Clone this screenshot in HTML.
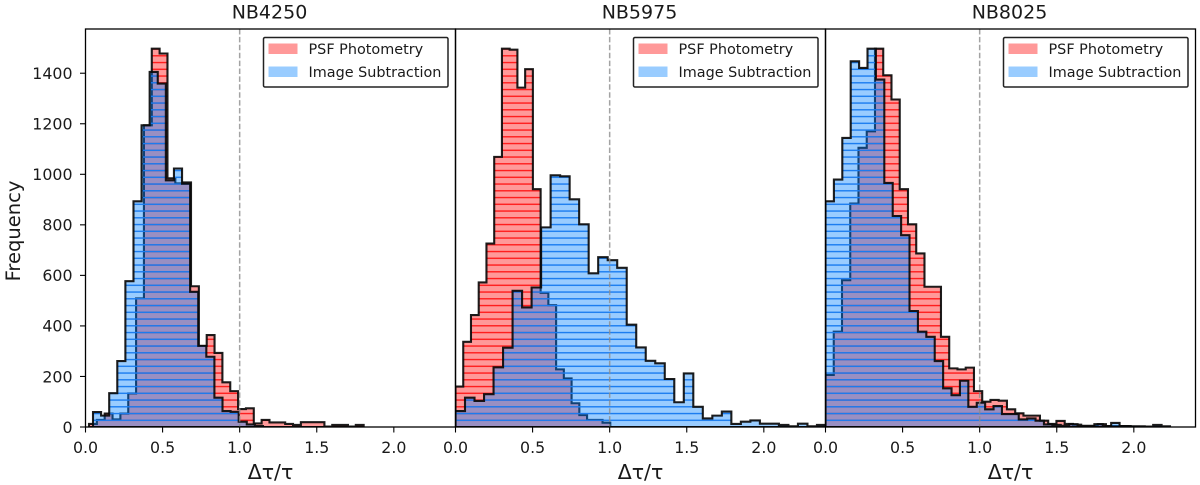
<!DOCTYPE html>
<html>
<head>
<meta charset="utf-8">
<title>Histograms</title>
<style>
html,body{margin:0;padding:0;background:#fff;width:1200px;height:485px;overflow:hidden}
svg{display:block;filter:blur(0.35px)}
text{font-family:"DejaVu Sans","Liberation Sans",sans-serif;fill:#1a1a1a}
</style>
</head>
<body>
<svg id="chart" xmlns="http://www.w3.org/2000/svg" width="1200" height="485" viewBox="0 0 1200 485">
<defs>
<pattern id="hatch-psf" patternUnits="userSpaceOnUse" width="10" height="6.75" y="419.6"><rect width="10" height="1.4" fill="#ff1c1c"/></pattern>
<pattern id="hatch-sub" patternUnits="userSpaceOnUse" width="10" height="6.75" y="419.6"><rect width="10" height="1.4" fill="#1a7cf0"/></pattern>
</defs>
</svg>
<script>
const panelTitles = ['NB4250', 'NB5975', 'NB8025'];
const seriesNames = ['PSF Photometry', 'Image Subtraction'];
const xTicks = [0.0, 0.5, 1.0, 1.5, 2.0];
const xTickLabels = ['0.0', '0.5', '1.0', '1.5', '2.0'];
const yTicks = [0, 200, 400, 600, 800, 1000, 1200, 1400];
const xDomain = [0, 2.4];
const yDomain = [0, 1575];
const referenceValue = 1.0;

const psfBinStarts = [0.0227, 0, 0];
const psfBinWidths = [0.0509, 0.0502, 0.0535];
const subBinStarts = [0.0487, 0, 0];
const subBinWidths = [0.0525, 0.0617, 0.0545];

const psfCountsNB4250 = [12,28,53,30,53,133,509,1194,1497,1478,984,964,968,557,321,364,293,177,142,71,74,14,28,18,18,12,8,19,19,19,2,8,8,2,8];
const subCountsNB4250 = [59,45,134,261,577,893,1194,1405,1359,976,1023,963,535,321,278,116,63,60,21,10,4];
const psfCountsNB5975 = [160,337,443,572,726,1069,1497,1493,1343,1416,941,531,482,228,192,94,47,28,28,17];
const subCountsNB5975 = [63,116,103,130,236,314,539,473,552,790,996,992,901,802,608,672,660,630,405,315,262,252,190,98,212,80,34,45,61,12,21,26,13,13,8,3,13,3,8];
const psfCountsNB8025 = [206,377,581,884,1105,1170,1497,1392,1296,941,802,687,555,555,357,232,228,235,142,100,107,104,70,54,45,45,25,12,24,12,9,5,5,11,4,4,4,2];
const subCountsNB8025 = [893,979,1144,1447,1421,1497,1375,966,835,759,459,377,357,261,153,126,183,80,96,70,83,51,51,30,34,25,10,8,5,11,3,3,11,4,16,4,3,3,2,8,3];

const psfCounts = [psfCountsNB4250, psfCountsNB5975, psfCountsNB8025];
const subCounts = [subCountsNB4250, subCountsNB5975, subCountsNB8025];

const NS = 'http://www.w3.org/2000/svg';
const svg = document.getElementById('chart');
const panelWidth = 370, plotTop = 29, plotBottom = 427, firstLeft = 85.5;

function panelLeft(p) { return firstLeft + p * panelWidth; }
function xScale(p, v) { return panelLeft(p) + (v - xDomain[0]) / (xDomain[1] - xDomain[0]) * panelWidth; }
function yScale(v) { return plotBottom - (v - yDomain[0]) / (yDomain[1] - yDomain[0]) * (plotBottom - plotTop); }

function mk(tag, attrs, parent, txt) {
  const el = document.createElementNS(NS, tag);
  for (const k in attrs) el.setAttribute(k, attrs[k]);
  if (txt !== undefined) el.textContent = txt;
  (parent || svg).appendChild(el);
  return el;
}

function stepPath(p, start, width, counts) {
  let d = 'M' + xScale(p, start).toFixed(2) + ' ' + yScale(0).toFixed(2);
  counts.forEach(function (c, i) {
    const x0 = xScale(p, start + i * width).toFixed(2);
    const x1 = xScale(p, start + (i + 1) * width).toFixed(2);
    const y = yScale(c).toFixed(2);
    d += 'L' + x0 + ' ' + y + 'L' + x1 + ' ' + y;
  });
  d += 'L' + xScale(p, start + counts.length * width).toFixed(2) + ' ' + yScale(0).toFixed(2) + 'Z';
  return d;
}

function drawSeries(group, p, start, width, counts, fill, hatch, key) {
  const d = stepPath(p, start, width, counts);
  const body = mk('path', { d: d, fill: fill }, group);
  
  
  const hatching = mk('path', { d: d, fill: 'url(#' + hatch + ')' }, group);
  
  
  const outline = mk('path', { d: d, fill: 'none', stroke: '#0a0a0a', 'stroke-opacity': 0.92, 'stroke-width': 2.1, 'stroke-linejoin': 'miter' }, group);
  
  
}

panelTitles.forEach(function (title, p) {
  const left = panelLeft(p);
  const panel = mk('g', {});
  
  

  const clip = mk('clipPath', { id: 'clip-' + p }, panel);
  mk('rect', { x: left, y: plotTop, width: panelWidth, height: plotBottom - plotTop }, clip);

  const marks = mk('g', { 'clip-path': 'url(#clip-' + p + ')' }, panel);
  
  
  drawSeries(marks, p, psfBinStarts[p], psfBinWidths[p], psfCounts[p], 'rgba(255,0,0,0.4)', 'hatch-psf', 'psf-photometry');
  drawSeries(marks, p, subBinStarts[p], subBinWidths[p], subCounts[p], 'rgba(0,127,255,0.4)', 'hatch-sub', 'image-subtraction');

  const refLine = mk('line', { x1: xScale(p, referenceValue), x2: xScale(p, referenceValue), y1: plotTop, y2: plotBottom, stroke: '#8c8c8c', 'stroke-opacity': 0.8, 'stroke-width': 1.5, 'stroke-dasharray': '5.5 2.4' }, panel);
  
  

  const frame = mk('rect', { x: left, y: plotTop, width: panelWidth, height: plotBottom - plotTop, fill: 'none', stroke: '#000', 'stroke-width': 1.3 }, panel);
  
  

  xTicks.forEach(function (t, i) {
    const x = xScale(p, t);
    const tick = mk('line', { x1: x, x2: x, y1: plotBottom, y2: plotBottom + 5.5, stroke: '#000', 'stroke-width': 1.1 }, panel);
    
    
    const lab = mk('text', { x: x, y: 453, 'text-anchor': 'middle', 'font-size': 15.8 }, panel, xTickLabels[i]);
    
    
  });

  const xTitle = mk('text', { x: left + panelWidth / 2, y: 479, 'text-anchor': 'middle', 'font-size': 20.5 }, panel, 'Δτ/τ');
  
  

  const heading = mk('text', { x: left + panelWidth / 2 - 1, y: 18.5, 'text-anchor': 'middle', 'font-size': 19 }, panel, title);
  
  

  const legendX = left + 178;
  const legend = mk('g', {}, panel);
  
  
  const box = mk('rect', { x: legendX, y: 37.5, width: 184.5, height: 49.5, rx: 1.5, fill: '#fff', 'fill-opacity': 0.9, stroke: '#222', 'stroke-width': 1.5 }, legend);
  
  
  const swatchColors = ['#ff9999', '#99ccff'];
  seriesNames.forEach(function (name, i) {
    const sw = mk('rect', { x: legendX + 5, y: 43.5 + i * 23, width: 29, height: 10.5, fill: swatchColors[i] }, legend);
    
    
    const lt = mk('text', { x: legendX + 45, y: 54 + i * 23, 'font-size': 14.4 }, legend, name);
    
    
  });
});

yTicks.forEach(function (t) {
  const y = yScale(t);
  const tick = mk('line', { x1: firstLeft - 5.5, x2: firstLeft, y1: y, y2: y, stroke: '#000', 'stroke-width': 1.1 });
  
  
  const lab = mk('text', { x: firstLeft - 13, y: y + 5.8, 'text-anchor': 'end', 'font-size': 15.8 }, svg, String(t));
  
  
});

const yTitle = mk('text', { x: 0, y: 0, transform: 'translate(20 231) rotate(-90)', 'text-anchor': 'middle', 'font-size': 19.5 }, svg, 'Frequency');


</script>
</body>
</html>
